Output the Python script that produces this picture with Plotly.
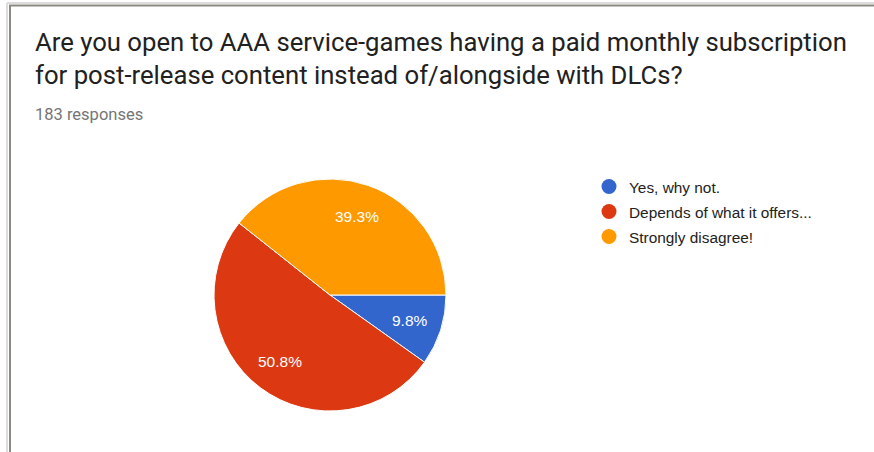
import math
import plotly.graph_objects as go

# Survey answers and response counts (183 responses in total)
answers = ["Yes, why not.", "Depends of what it offers...", "Strongly disagree!"]
counts = [18, 93, 72]
colors = ["#3366cc", "#dc3912", "#ff9900"]

question = ("Are you open to AAA service-games having a paid monthly subscription"
            "<br>for post-release content instead of/alongside with DLCs?")
subtitle = f"{sum(counts)} responses"

W, H = 874, 452

# Pie placement (pixels) and the start angle of the first slice
cx, cy, R = 330, 295, 116
start_deg = 90  # clockwise from 12 o'clock

fig = go.Figure()

fig.add_trace(go.Pie(
    labels=answers,
    values=counts,
    sort=False,
    direction="clockwise",
    rotation=start_deg,
    marker=dict(colors=colors, line=dict(color="white", width=1)),
    textinfo="none",
    domain=dict(x=[(cx - R) / W, (cx + R) / W], y=[(H - cy - R) / H, (H - cy + R) / H]),
    showlegend=False,
    hoverinfo="label+percent",
))

# Percentage labels at about 72% of the radius, at each slice's mid-angle
total = sum(counts)
annotations = []
acc = 0
for c in counts:
    mid = start_deg + (acc + c / 2) / total * 360
    acc += c
    rad = math.radians(mid)
    px = cx + 0.72 * R * math.sin(rad)
    py = cy - 0.72 * R * math.cos(rad)
    annotations.append(dict(
        text=f"{c / total * 100:.1f}%", x=px / W, y=1 - py / H,
        xref="paper", yref="paper", xanchor="center", yanchor="middle",
        showarrow=False,
        font=dict(family="Liberation Sans, Arial", size=15.5, color="white"),
    ))

# Circle markers for the legend entries
for i, (name, col) in enumerate(zip(answers, colors)):
    fig.add_trace(go.Scatter(
        x=[None], y=[None], mode="markers", name=name,
        legendgroup=f"g{i}",
        marker=dict(symbol="circle", size=15, color=col),
    ))

annotations += [
    dict(text=question, x=33 / W, y=1 - 25 / H, xref="paper", yref="paper",
         xanchor="left", yanchor="top", align="left", showarrow=False,
         font=dict(family="Roboto", size=25.7, color="#212121")),
    dict(text=subtitle, x=33 / W, y=1 - 114 / H, xref="paper", yref="paper",
         xanchor="left", yanchor="middle", showarrow=False,
         font=dict(family="Roboto", size=16.5, color="#757575")),
]

fig.update_layout(
    width=W, height=H,
    margin=dict(l=0, r=0, t=0, b=0),
    paper_bgcolor="white",
    plot_bgcolor="white",
    xaxis=dict(visible=False),
    yaxis=dict(visible=False),
    legend=dict(
        x=589 / W, y=1 - 170 / H, xanchor="left", yanchor="top",
        font=dict(family="Liberation Sans, Arial", size=15.4, color="#222222"),
        tracegroupgap=2,
        bgcolor="rgba(0,0,0,0)",
    ),
    annotations=annotations,
    shapes=[
        # soft shadow around the card edge
        dict(type="line", xref="paper", yref="paper", x0=7 / W, x1=7 / W, y0=0, y1=1 - 3 / H,
             line=dict(color="#dcdcdc", width=2)),
        dict(type="line", xref="paper", yref="paper", x0=7 / W, x1=1, y0=1 - 3 / H, y1=1 - 3 / H,
             line=dict(color="#dcdcdc", width=2)),
        # card border
        dict(type="line", xref="paper", yref="paper", x0=10 / W, x1=10 / W, y0=0, y1=1 - 5.5 / H,
             line=dict(color="#8d8982", width=2)),
        dict(type="line", xref="paper", yref="paper", x0=9 / W, x1=1, y0=1 - 5.5 / H, y1=1 - 5.5 / H,
             line=dict(color="#8d8982", width=2)),
    ],
)

fig.write_html("out.html")
